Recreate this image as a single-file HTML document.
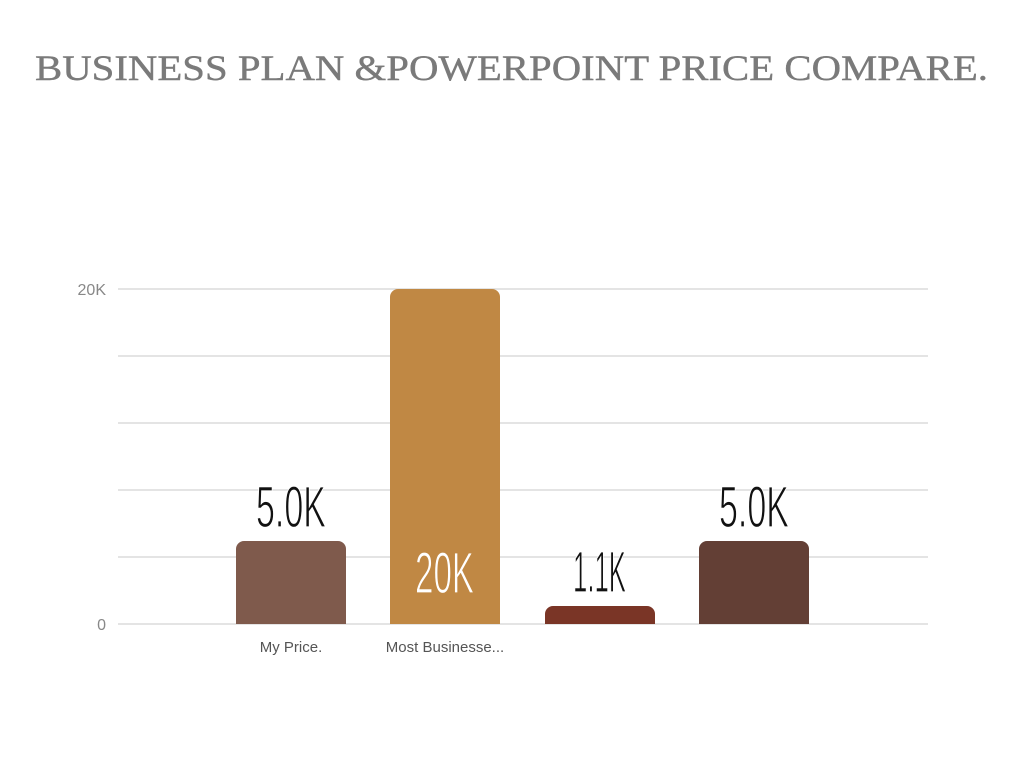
<!DOCTYPE html>
<html><head><style>
body{margin:0;background:#fff;width:1024px;height:768px;overflow:hidden}
</style></head><body>
<svg width="1024" height="768" xmlns="http://www.w3.org/2000/svg">
<text x="35" y="80" font-family="Liberation Serif, serif" font-size="36" fill="#7a7a7a" stroke="#7a7a7a" stroke-width="0.4" textLength="953" lengthAdjust="spacingAndGlyphs">BUSINESS PLAN &amp;POWERPOINT PRICE COMPARE.</text>
<g stroke="#dcdcdc" stroke-width="1.5">
<line x1="118" y1="289" x2="928" y2="289"/>
<line x1="118" y1="356" x2="928" y2="356"/>
<line x1="118" y1="423" x2="928" y2="423"/>
<line x1="118" y1="490" x2="928" y2="490"/>
<line x1="118" y1="557" x2="928" y2="557"/>
<line x1="118" y1="624" x2="928" y2="624"/>
</g>
<g font-family="Liberation Sans, sans-serif" font-size="16" fill="#888" text-anchor="end">
<text x="106" y="295">20K</text>
<text x="106" y="630">0</text>
</g>
<path d="M236,624V549a8,8 0 0 1 8,-8H338a8,8 0 0 1 8,8V624Z" fill="#7f5a4c"/>
<path d="M390,624V297a8,8 0 0 1 8,-8H492a8,8 0 0 1 8,8V624Z" fill="#c08844"/>
<path d="M545,624V614a8,8 0 0 1 8,-8H647a8,8 0 0 1 8,8V624Z" fill="#7a3526"/>
<path d="M699,624V549a8,8 0 0 1 8,-8H801a8,8 0 0 1 8,8V624Z" fill="#633f35"/>
<g font-family="Liberation Sans, sans-serif" font-size="58">
<text x="256" y="527" textLength="70" lengthAdjust="spacingAndGlyphs" fill="#111" stroke="#fff" stroke-width="1.2">5.0K</text>
<text x="415" y="593" textLength="59" lengthAdjust="spacingAndGlyphs" fill="#fff" stroke="#c08844" stroke-width="1.2">20K</text>
<text x="573" y="592" textLength="53" lengthAdjust="spacingAndGlyphs" fill="#111" stroke="#fff" stroke-width="1.2">1.1K</text>
<text x="719" y="527" textLength="70" lengthAdjust="spacingAndGlyphs" fill="#111" stroke="#fff" stroke-width="1.2">5.0K</text>
</g>
<g font-family="Liberation Sans, sans-serif" font-size="15" fill="#555" text-anchor="middle">
<text x="291" y="652">My Price.</text>
<text x="445" y="652">Most Businesse...</text>
</g>
</svg>
</body></html>
